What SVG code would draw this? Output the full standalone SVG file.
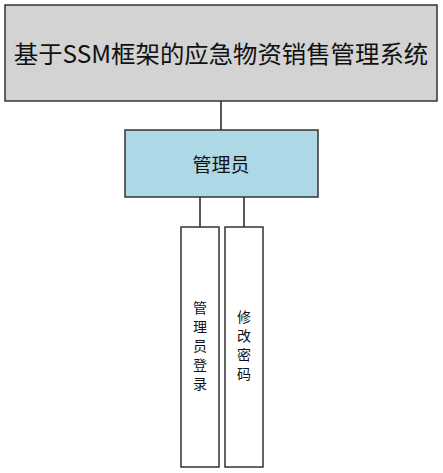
<svg xmlns="http://www.w3.org/2000/svg" width="443" height="473" viewBox="0 0 443 473">
<style>
.box{stroke:#333;stroke-width:1.5}
.t{font-family:"Microsoft YaHei","Noto Sans CJK SC","Noto Sans",sans-serif;fill:#111;text-anchor:middle;dominant-baseline:central}
.c{stroke:#222;stroke-width:1.5;fill:none}
</style>
<rect width="443" height="473" fill="#fff"/>
<g id="connectors">
<line class="c" x1="221" y1="101" x2="221" y2="130"/>
<line class="c" x1="200" y1="197" x2="200" y2="227"/>
<line class="c" x1="244" y1="197" x2="244" y2="227"/>
</g>
<g id="node-system">
<rect class="box" x="5" y="5" width="432" height="96" fill="#d3d3d3"/>
<text class="t" x="221" y="52" font-size="24.4">基于SSM框架的应急物资销售管理系统</text>
</g>
<g id="node-admin">
<rect class="box" x="125" y="130" width="193" height="67" fill="#add8e6"/>
<text class="t" x="221" y="163.5" font-size="19">管理员</text>
</g>
<g id="node-login">
<rect class="box" x="181" y="227" width="38" height="240" fill="#fff"/>
<text class="t" font-size="14"><tspan x="200" y="307">管</tspan><tspan x="200" y="326">理</tspan><tspan x="200" y="345">员</tspan><tspan x="200" y="364">登</tspan><tspan x="200" y="383">录</tspan></text>
</g>
<g id="node-password">
<rect class="box" x="225" y="227" width="38" height="240" fill="#fff"/>
<text class="t" font-size="14"><tspan x="244" y="316">修</tspan><tspan x="244" y="335">改</tspan><tspan x="244" y="354">密</tspan><tspan x="244" y="373">码</tspan></text>
</g>
</svg>
